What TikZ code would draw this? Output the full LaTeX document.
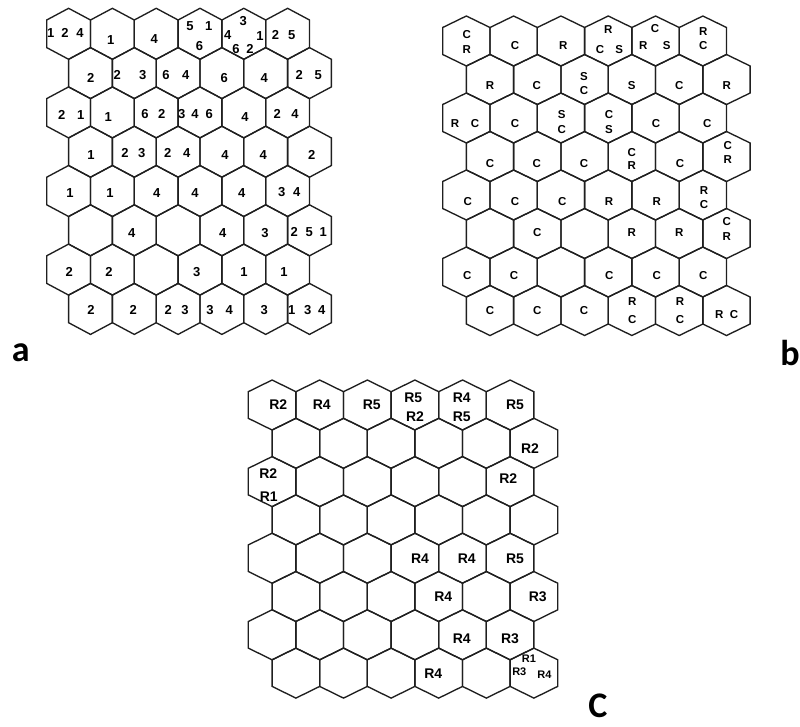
\documentclass[tikz,border=0pt]{standalone}
\usepackage{fontspec}
\setmainfont{Liberation Sans}
\newfontfamily\capfont{Carlito}
\begin{document}
\begin{tikzpicture}[x=1pt,y=-1pt,
  hexline/.style={line width=1.35pt, draw=black!88, line join=miter},
  la/.style={font=\fontsize{13}{13}\selectfont\bfseries, inner sep=0pt},
  lb/.style={font=\fontsize{11.5}{11.5}\selectfont\bfseries, inner sep=0pt},
  lc/.style={font=\fontsize{14}{14}\selectfont\bfseries, inner sep=0pt},
  ls/.style={font=\fontsize{11}{11}\selectfont\bfseries, inner sep=0pt},
  panel/.style={font=\capfont\fontsize{36}{36}\selectfont\bfseries, inner sep=0pt, anchor=base}]
\useasboundingbox (0,0) rectangle (800,726);
\newcommand\hexgrid[6]{%
  \foreach \i in {0,...,7}{\foreach \j in {0,...,5}{
    \pgfmathsetmacro\cx{#1+#3/2+mod(\i,2)*#3/2+\j*#3}
    \pgfmathsetmacro\cy{#2+#4+\i*#6}
    \draw[hexline] (\cx-#3/2,\cy-#5) -- (\cx,\cy-#4) -- (\cx+#3/2,\cy-#5) -- (\cx+#3/2,\cy+#5) -- (\cx,\cy+#4) -- (\cx-#3/2,\cy+#5) -- cycle;
  }}}
\newcommand\mylab[5]{\node[#1] (#2) at (#3,#4) {#5};}
% grids
\hexgrid{46.7}{8.3}{43.8}{25.5}{13.8}{39.3}
\hexgrid{442.7}{16}{47.3}{25}{13.5}{38.5}
\hexgrid{248.3}{380}{47.6}{25}{13.3}{38.3}
% ---------- grid a ----------
\mylab{la}{a00a}{50.7}{33.3}{1}\mylab{la}{a00b}{65}{33.3}{2}\mylab{la}{a00c}{80}{33.3}{4}
\mylab{la}{a01}{110.7}{40}{1}
\mylab{la}{a02}{154.3}{39.3}{4}
\mylab{la}{a03a}{190}{26}{5}\mylab{la}{a03b}{208.7}{26}{1}\mylab{la}{a03c}{199.5}{45.7}{6}
\mylab{la}{a04a}{243.3}{21.5}{3}\mylab{la}{a04b}{227.7}{35}{4}\mylab{la}{a04c}{260}{36}{1}
\mylab{la}{a04d}{236}{49}{6}\mylab{la}{a04e}{250}{48.5}{2}
\mylab{la}{a05a}{275.5}{35}{2}\mylab{la}{a05b}{291.7}{35}{5}
\mylab{la}{a10}{90.7}{78.3}{2}
\mylab{la}{a11a}{117.3}{75}{2}\mylab{la}{a11b}{142.7}{75}{3}
\mylab{la}{a12a}{166}{75}{6}\mylab{la}{a12b}{185.7}{75}{4}
\mylab{la}{a13}{224.3}{78}{6}
\mylab{la}{a14}{264.3}{78}{4}
\mylab{la}{a15a}{299.3}{75}{2}\mylab{la}{a15b}{318.3}{75}{5}
\mylab{la}{a20a}{61.7}{115}{2}\mylab{la}{a20b}{80.7}{115}{1}
\mylab{la}{a21}{108.3}{116.7}{1}
\mylab{la}{a22a}{145}{114.3}{6}\mylab{la}{a22b}{161.7}{114.3}{2}
\mylab{la}{a23a}{181.7}{114.3}{3}\mylab{la}{a23b}{195}{114.3}{4}\mylab{la}{a23c}{209.3}{114.3}{6}
\mylab{la}{a24}{245}{116.7}{4}
\mylab{la}{a25a}{277.3}{114.3}{2}\mylab{la}{a25b}{295}{114.3}{4}
\mylab{la}{a30}{91}{155}{1}
\mylab{la}{a31a}{125}{153}{2}\mylab{la}{a31b}{141.7}{153}{3}
\mylab{la}{a32a}{167.7}{153}{2}\mylab{la}{a32b}{186.7}{153}{4}
\mylab{la}{a33}{225}{155}{4}
\mylab{la}{a34}{263.3}{155}{4}
\mylab{la}{a35}{311.7}{155}{2}
\mylab{la}{a40}{70}{192.7}{1}
\mylab{la}{a41}{110}{192.7}{1}
\mylab{la}{a42}{156.7}{192.7}{4}
\mylab{la}{a43}{195}{192.7}{4}
\mylab{la}{a44}{241.7}{192.7}{4}
\mylab{la}{a45a}{281.7}{192}{3}\mylab{la}{a45b}{296.7}{192}{4}
\mylab{la}{a51}{131.7}{233.3}{4}
\mylab{la}{a53}{222.7}{233.3}{4}
\mylab{la}{a54}{265}{233.3}{3}
\mylab{la}{a55a}{294.3}{232}{2}\mylab{la}{a55b}{309.3}{232}{5}\mylab{la}{a55c}{323.3}{232}{1}
\mylab{la}{a60}{69.3}{271.7}{2}
\mylab{la}{a61}{109}{271.7}{2}
\mylab{la}{a63}{196.7}{271.7}{3}
\mylab{la}{a64}{244}{271.7}{1}
\mylab{la}{a65}{284}{271.7}{1}
\mylab{la}{a70}{91}{310}{2}
\mylab{la}{a71}{133.3}{310}{2}
\mylab{la}{a72a}{168.3}{310}{2}\mylab{la}{a72b}{185}{310}{3}
\mylab{la}{a73a}{210}{310}{3}\mylab{la}{a73b}{229.3}{310}{4}
\mylab{la}{a74}{264.3}{310}{3}
\mylab{la}{a75a}{291.7}{310}{1}\mylab{la}{a75b}{307.7}{310}{3}\mylab{la}{a75c}{321.7}{310}{4}
% ---------- grid b ----------
\mylab{lb}{b00a}{466.7}{35}{C}\mylab{lb}{b00b}{466.7}{49.3}{R}
\mylab{lb}{b01}{515}{45.7}{C}
\mylab{lb}{b02}{563.3}{45.7}{R}
\mylab{lb}{b03a}{608.3}{29.3}{R}\mylab{lb}{b03b}{600}{50}{C}\mylab{lb}{b03c}{619.3}{50}{S}
\mylab{lb}{b04a}{655}{28.3}{C}\mylab{lb}{b04b}{643.3}{45.7}{R}\mylab{lb}{b04c}{666.7}{45.7}{S}
\mylab{lb}{b05a}{703.3}{31.7}{R}\mylab{lb}{b05b}{703.3}{45.7}{C}
\mylab{lb}{b10}{490}{86}{R}
\mylab{lb}{b11}{536.7}{86}{C}
\mylab{lb}{b12a}{584}{76.7}{S}\mylab{lb}{b12b}{584}{90.7}{C}
\mylab{lb}{b13}{631.7}{86}{S}
\mylab{lb}{b14}{679.3}{86}{C}
\mylab{lb}{b15}{726.7}{86}{R}
\mylab{lb}{b20a}{455}{124}{R}\mylab{lb}{b20b}{475}{124}{C}
\mylab{lb}{b21}{515}{124}{C}
\mylab{lb}{b22a}{561.7}{115}{S}\mylab{lb}{b22b}{561.7}{129.3}{C}
\mylab{lb}{b23a}{609}{115}{C}\mylab{lb}{b23b}{609}{129.3}{S}
\mylab{lb}{b24}{656}{124}{C}
\mylab{lb}{b25}{707.3}{124}{C}
\mylab{lb}{b30}{490}{163.3}{C}
\mylab{lb}{b31}{536.7}{163.3}{C}
\mylab{lb}{b32}{584}{163.3}{C}
\mylab{lb}{b33a}{631.7}{152.3}{C}\mylab{lb}{b33b}{631.7}{166}{R}
\mylab{lb}{b34}{680}{163.3}{C}
\mylab{lb}{b35a}{727.7}{145.7}{C}\mylab{lb}{b35b}{727.7}{159.3}{R}
\mylab{lb}{b40}{467.7}{201.7}{C}
\mylab{lb}{b41}{515}{201.7}{C}
\mylab{lb}{b42}{562.3}{201.7}{C}
\mylab{lb}{b43}{609}{201.7}{R}
\mylab{lb}{b44}{656.7}{201.7}{R}
\mylab{lb}{b45a}{704}{190.7}{R}\mylab{lb}{b45b}{704}{205}{C}
\mylab{lb}{b51}{537.3}{232.7}{C}
\mylab{lb}{b53}{631.7}{232.7}{R}
\mylab{lb}{b54}{679.3}{232.7}{R}
\mylab{lb}{b55a}{726.7}{221.7}{C}\mylab{lb}{b55b}{726.7}{236.7}{R}
\mylab{lb}{b60}{467.3}{276}{C}
\mylab{lb}{b61}{514}{276}{C}
\mylab{lb}{b63}{609.3}{276}{C}
\mylab{lb}{b64}{656.7}{276}{C}
\mylab{lb}{b65}{703.3}{276}{C}
\mylab{lb}{b70}{490}{310.7}{C}
\mylab{lb}{b71}{537.3}{310.7}{C}
\mylab{lb}{b72}{584}{310.7}{C}
\mylab{lb}{b73a}{632.3}{301.7}{R}\mylab{lb}{b73b}{632.3}{320}{C}
\mylab{lb}{b74a}{680}{301.7}{R}\mylab{lb}{b74b}{680}{320}{C}
\mylab{lb}{b75a}{719.3}{315}{R}\mylab{lb}{b75b}{734}{315}{C}
% ---------- grid c ----------
\mylab{lc}{c00}{278.3}{405}{R2}
\mylab{lc}{c01}{321.7}{405}{R4}
\mylab{lc}{c02}{371.7}{405}{R5}
\mylab{lc}{c03a}{413.3}{397.3}{R5}\mylab{lc}{c03b}{415}{416.7}{R2}
\mylab{lc}{c04a}{461.7}{397.3}{R4}\mylab{lc}{c04b}{461.7}{416.7}{R5}
\mylab{lc}{c05}{515}{405}{R5}
\mylab{lc}{c15}{530}{448.3}{R2}
\mylab{lc}{c20a}{268.3}{474}{R2}\mylab{lc}{c20b}{268.7}{496.7}{R1}
\mylab{lc}{c25}{508.3}{478.3}{R2}
\mylab{lc}{c43}{420}{558.3}{R4}
\mylab{lc}{c44}{466.7}{558.3}{R4}
\mylab{lc}{c45}{515}{558.3}{R5}
\mylab{lc}{c53}{443.3}{596.7}{R4}
\mylab{lc}{c55}{537.7}{596.7}{R3}
\mylab{lc}{c64}{461.7}{638.3}{R4}
\mylab{lc}{c65}{510}{638.3}{R3}
\mylab{lc}{c73}{433.3}{673.3}{R4}
\mylab{ls}{c75a}{529}{658.5}{R1}\mylab{ls}{c75b}{519.3}{672.2}{R3}\mylab{ls}{c75c}{544.5}{675}{R4}
% panel letters
\node[panel] (pa) at (20.8,361) {a};
\node[panel] (pb) at (790,365) {b};
\node[panel] (pc) at (598,717) {C};
\end{tikzpicture}
\end{document}
